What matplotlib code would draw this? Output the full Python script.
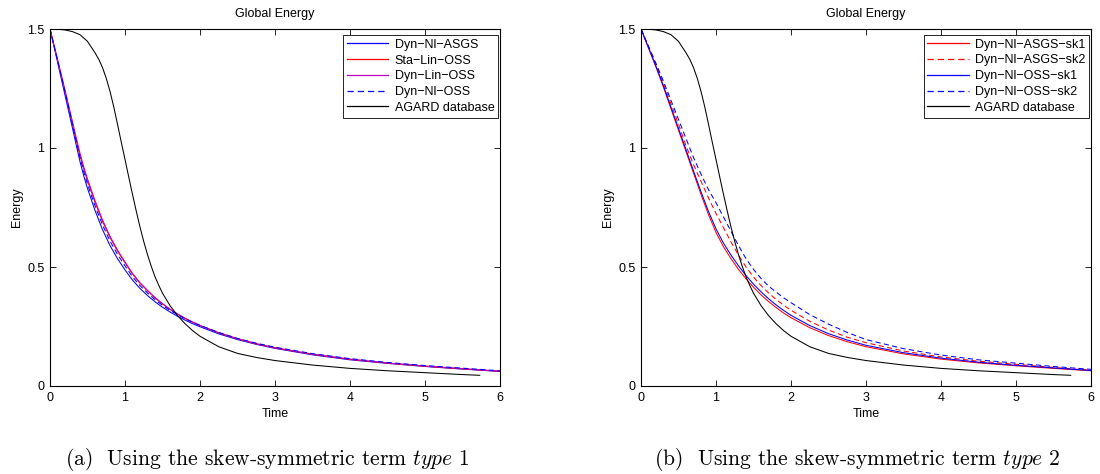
import matplotlib
matplotlib.use('Agg')
import matplotlib.pyplot as plt

plt.rcParams['font.family'] = ['Liberation Sans', 'DejaVu Sans']
plt.rcParams['mathtext.fontset'] = 'cm'

# AGARD database (same curve in both panels)
t_agard = [0, 0.1, 0.2, 0.3, 0.4, 0.5, 0.6, 0.65, 0.7, 0.75, 0.8, 0.85, 0.9, 0.95, 1.0,
           1.05, 1.1, 1.15, 1.2, 1.25, 1.3, 1.35, 1.4, 1.45, 1.5, 1.6, 1.7, 1.8, 1.9, 2.0,
           2.25, 2.5, 2.75, 3.0, 3.5, 4.0, 4.5, 5.0, 5.5, 5.73]
e_agard = [1.5, 1.499, 1.496, 1.489, 1.476, 1.448, 1.4, 1.373, 1.338, 1.293, 1.238, 1.173,
           1.1, 1.025, 0.952, 0.878, 0.805, 0.735, 0.668, 0.607, 0.552, 0.503, 0.459, 0.423,
           0.39, 0.338, 0.296, 0.262, 0.233, 0.209, 0.165, 0.137, 0.12, 0.107, 0.088, 0.074,
           0.064, 0.056, 0.048, 0.045]

# panel (a): skew-symmetric term type 1
t_a = [0, 0.1, 0.2, 0.3, 0.35, 0.4, 0.45, 0.5, 0.6, 0.7, 0.8, 0.9, 1.0, 1.1, 1.2, 1.3,
       1.4, 1.5, 1.6, 1.7, 1.8, 1.9, 2.0, 2.25, 2.5, 2.75, 3.0, 3.5, 4.0, 4.5, 5.0, 5.5, 6.0]
e_dyn_nl_asgs = [1.5, 1.362, 1.222, 1.083, 1.012, 0.943, 0.883, 0.83, 0.738, 0.657, 0.59,
                 0.535, 0.488, 0.445, 0.41, 0.38, 0.354, 0.331, 0.311, 0.293, 0.277, 0.262,
                 0.249, 0.219, 0.195, 0.175, 0.158, 0.131, 0.11, 0.095, 0.082, 0.071, 0.061]
e_sta_lin_oss = [1.5, 1.368, 1.234, 1.1, 1.032, 0.968, 0.912, 0.862, 0.772, 0.692, 0.624,
                 0.567, 0.518, 0.47, 0.432, 0.4, 0.37, 0.345, 0.322, 0.302, 0.284, 0.268,
                 0.254, 0.223, 0.198, 0.177, 0.16, 0.133, 0.112, 0.096, 0.083, 0.072, 0.062]
e_dyn_lin_oss = [1.5, 1.374, 1.244, 1.11, 1.043, 0.978, 0.921, 0.87, 0.779, 0.698, 0.629,
                 0.571, 0.521, 0.473, 0.434, 0.402, 0.372, 0.346, 0.323, 0.303, 0.285, 0.269,
                 0.255, 0.224, 0.199, 0.178, 0.161, 0.134, 0.113, 0.097, 0.084, 0.073, 0.062]
e_dyn_nl_oss = [1.5, 1.37, 1.236, 1.098, 1.027, 0.958, 0.9, 0.848, 0.757, 0.677, 0.609,
                0.553, 0.505, 0.459, 0.422, 0.391, 0.363, 0.339, 0.318, 0.3, 0.283, 0.268,
                0.255, 0.225, 0.2, 0.18, 0.163, 0.136, 0.115, 0.099, 0.086, 0.075, 0.064]

# panel (b): skew-symmetric term type 2
t_b = [0, 0.1, 0.2, 0.3, 0.4, 0.5, 0.6, 0.7, 0.8, 0.9, 1.0, 1.1, 1.2, 1.3, 1.4, 1.5, 1.6,
       1.7, 1.8, 1.9, 2.0, 2.25, 2.5, 2.75, 3.0, 3.5, 4.0, 4.5, 5.0, 5.5, 6.0]
e_asgs_sk1 = [1.5, 1.42, 1.34, 1.255, 1.165, 1.075, 0.985, 0.895, 0.805, 0.72, 0.645, 0.585,
              0.535, 0.49, 0.45, 0.415, 0.383, 0.355, 0.33, 0.307, 0.287, 0.245, 0.212, 0.186,
              0.165, 0.135, 0.113, 0.097, 0.085, 0.074, 0.064]
e_asgs_sk2 = [1.5, 1.425, 1.35, 1.27, 1.185, 1.1, 1.01, 0.93, 0.86, 0.79, 0.725, 0.665, 0.605,
              0.55, 0.5, 0.458, 0.422, 0.391, 0.364, 0.34, 0.318, 0.272, 0.235, 0.205, 0.182,
              0.147, 0.122, 0.104, 0.091, 0.078, 0.066]
e_oss_sk1 = [1.5, 1.422, 1.343, 1.26, 1.171, 1.082, 0.993, 0.904, 0.816, 0.733, 0.66, 0.6,
             0.55, 0.505, 0.464, 0.428, 0.396, 0.367, 0.341, 0.318, 0.297, 0.254, 0.22, 0.193,
             0.171, 0.14, 0.117, 0.1, 0.087, 0.076, 0.065]
e_oss_sk2 = [1.5, 1.428, 1.355, 1.28, 1.2, 1.12, 1.04, 0.96, 0.89, 0.825, 0.77, 0.71, 0.65,
             0.59, 0.535, 0.49, 0.452, 0.42, 0.395, 0.371, 0.35, 0.3, 0.26, 0.225, 0.195,
             0.157, 0.13, 0.11, 0.096, 0.082, 0.07]

lw = 0.75
dash = (0, (5, 3.2))
fs = 9

fig = plt.figure(figsize=(11, 4.74), dpi=100)
ax1 = fig.add_axes([50/1100, 88/474, 450/1100, 357/474])
ax2 = fig.add_axes([641/1100, 88/474, 450/1100, 357/474])

ax1.plot(t_a, e_dyn_nl_asgs, color='b', lw=lw, label='Dyn\u2212Nl\u2212ASGS')
ax1.plot(t_a, e_sta_lin_oss, color='r', lw=lw, label='Sta\u2212Lin\u2212OSS')
ax1.plot(t_a, e_dyn_lin_oss, color='m', lw=lw, label='Dyn\u2212Lin\u2212OSS')
ax1.plot(t_a, e_dyn_nl_oss, color='b', lw=lw, linestyle=dash, label='Dyn\u2212Nl\u2212OSS')
ax1.plot(t_agard, e_agard, color='k', lw=lw, label='AGARD database')

ax2.plot(t_b, e_asgs_sk1, color='r', lw=lw, label='Dyn\u2212Nl\u2212ASGS\u2212sk1')
ax2.plot(t_b, e_asgs_sk2, color='r', lw=lw, linestyle=dash, label='Dyn\u2212Nl\u2212ASGS\u2212sk2')
ax2.plot(t_b, e_oss_sk1, color='b', lw=lw, label='Dyn\u2212Nl\u2212OSS\u2212sk1')
ax2.plot(t_b, e_oss_sk2, color='b', lw=lw, linestyle=dash, label='Dyn\u2212Nl\u2212OSS\u2212sk2')
ax2.plot(t_agard, e_agard, color='k', lw=lw, label='AGARD database')

for ax in (ax1, ax2):
    ax.set_xlim(0, 6)
    ax.set_ylim(0, 1.5)
    ax.set_xticks([0, 1, 2, 3, 4, 5, 6])
    ax.set_yticks([0, 0.5, 1, 1.5])
    ax.set_yticklabels(['0', '0.5', '1', '1.5'])
    ax.tick_params(direction='in', top=True, right=True, labelsize=fs, length=4, width=0.6, pad=4)
    for s in ax.spines.values():
        s.set_linewidth(0.8)
    ax.set_title('Global Energy', fontsize=fs, pad=9)
    ax.set_xlabel('Time', fontsize=fs, labelpad=3)
    ax.set_ylabel('Energy', fontsize=fs, labelpad=3)
    leg = ax.legend(loc='upper right', bbox_to_anchor=(1 - 2/450, 1 - 6/357), borderaxespad=0,
                    fontsize=fs, frameon=True, fancybox=False, edgecolor='k', framealpha=1,
                    handlelength=3.3, handletextpad=0.5, labelspacing=0.3, borderpad=0.3)
    leg.get_frame().set_linewidth(0.6)
    for h in leg.get_lines():
        h.set_linewidth(0.9)

fig.text(267/1100, 0.03, r'(a)  Using the skew-symmetric term $\mathit{type\ 1}$',
         ha='center', va='center', fontsize=15.5, family='cmr10')
fig.text(857/1100, 0.03, r'(b)  Using the skew-symmetric term $\mathit{type\ 2}$',
         ha='center', va='center', fontsize=15.5, family='cmr10')

fig.savefig('out.png', dpi=100)
